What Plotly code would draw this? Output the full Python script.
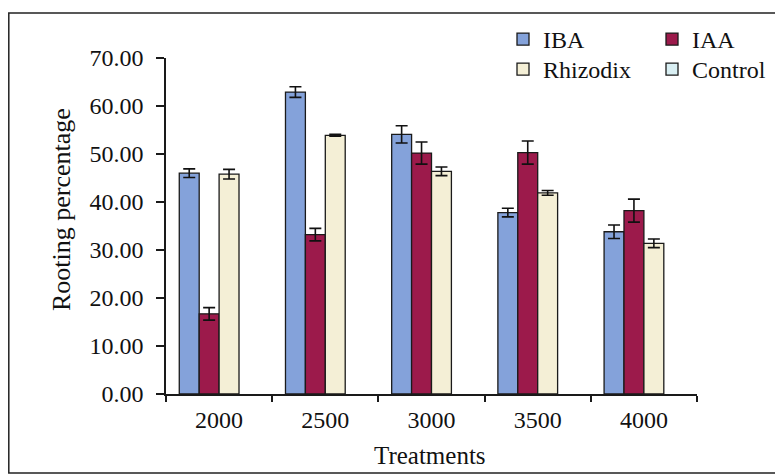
import plotly.graph_objects as go

treatments = ["2000", "2500", "3000", "3500", "4000"]
iba = [46.0, 62.9, 54.1, 37.8, 33.8]
iba_err = [0.9, 1.1, 1.8, 0.9, 1.4]
iaa = [16.7, 33.2, 50.2, 50.3, 38.2]
iaa_err = [1.3, 1.3, 2.3, 2.4, 2.4]
rhizodix = [45.8, 53.9, 46.4, 41.9, 31.4]
rhizodix_err = [1.0, 0.2, 0.9, 0.5, 0.9]
control = [None, None, None, None, None]

FONT = "Liberation Serif, Times New Roman, serif"

# page body has an 8px margin: figure is sized/positioned to compensate
W, H = 775, 467
L, R, T, B = 158, 86, 50, 81
PW, PH = W - L - R, H - T - B


def bar(name, y, err, color, legend):
    return go.Bar(
        name=name, x=treatments, y=y, showlegend=True,
        marker=dict(color=color, line=dict(color="#1a1a1a", width=1.3)),
        error_y=dict(type="data", array=err, visible=err is not None,
                     color="#111111", thickness=1.6, width=6),
        legend=legend,
    )


fig = go.Figure()
fig.add_trace(bar("IBA", iba, iba_err, "#84a2da", "legend"))
fig.add_trace(bar("IAA", iaa, iaa_err, "#9c1a4b", "legend2"))
fig.add_trace(bar("Rhizodix", rhizodix, rhizodix_err, "#f4efd6", "legend3"))
fig.add_trace(bar("Control", control, None, "#d9eff3", "legend4"))

legend_common = dict(
    font=dict(family=FONT, size=24, color="#111111"),
    bgcolor="rgba(0,0,0,0)", itemwidth=30,
    xanchor="left", yanchor="top", yref="container", xref="container",
)

fig.update_layout(
    width=W, height=H, showlegend=True,
    margin=dict(l=L, r=R, t=T, b=B, autoexpand=False),
    paper_bgcolor="white", plot_bgcolor="white",
    barmode="group", bargap=0.25, bargroupgap=0,
    font=dict(family=FONT, size=24, color="#111111"),
    legend=dict(x=495 / W, y=1 - 9 / H, **legend_common),
    legend2=dict(x=644 / W, y=1 - 9 / H, **legend_common),
    legend3=dict(x=495 / W, y=1 - 39 / H, **legend_common),
    legend4=dict(x=644 / W, y=1 - 39 / H, **legend_common),
    xaxis=dict(
        showline=True, linecolor="#1a1a1a", linewidth=1.5,
        ticks="outside", tickson="boundaries", ticklen=6, tickcolor="#1a1a1a",
        tickwidth=1.5, showgrid=False, ticklabelstandoff=3,
        tickfont=dict(family=FONT, size=24, color="#111111"),
    ),
    yaxis=dict(
        range=[0, 70], dtick=10, tickformat=".2f",
        showline=True, linecolor="#1a1a1a", linewidth=1.5,
        ticks="outside", ticklen=8, tickcolor="#1a1a1a", tickwidth=1.5,
        showgrid=False, zeroline=False, ticklabelstandoff=8,
        tickfont=dict(family=FONT, size=24, color="#111111"),
    ),
    annotations=[
        dict(text="Treatments", xref="paper", yref="paper",
             x=(422 - L) / PW, y=(H - B - 447) / PH, xanchor="center", yanchor="middle",
             showarrow=False, font=dict(family=FONT, size=25, color="#111111")),
        dict(text="Rooting percentage", xref="paper", yref="paper", textangle=-90,
             x=(54 - L) / PW, y=(H - B - 202) / PH, xanchor="center", yanchor="middle",
             showarrow=False, font=dict(family=FONT, size=26, color="#111111")),
    ],
    shapes=[dict(type="rect", xref="paper", yref="paper",
                 x0=(0.8 - L) / PW, x1=(W + 20 - L) / PW,
                 y0=(H - B - 465) / PH, y1=(H - B - 5) / PH,
                 line=dict(color="#222222", width=1.5), layer="below")],
)

fig.write_html("out.html")
